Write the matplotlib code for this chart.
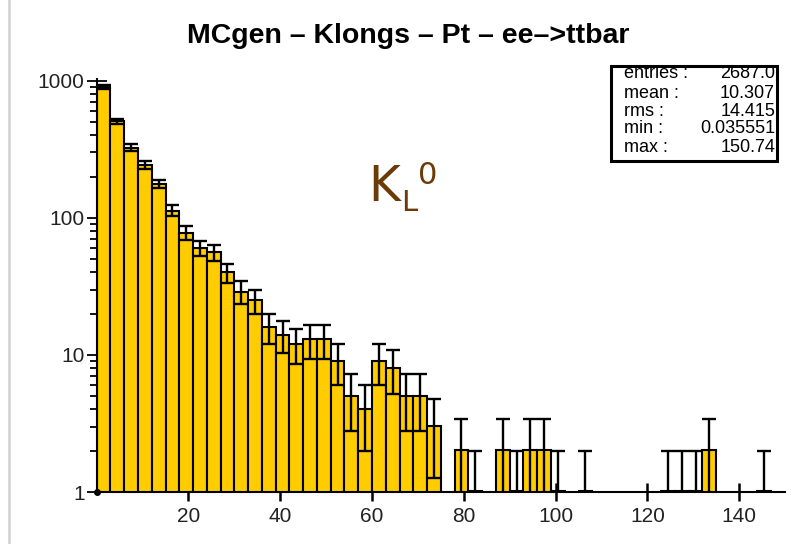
import numpy as np
import matplotlib
matplotlib.use("Agg")
import matplotlib.pyplot as plt
from matplotlib.lines import Line2D
from matplotlib.ticker import FixedLocator, NullFormatter

# ---------------- data ----------------
title = "MCgen \u2013 Klongs \u2013 Pt \u2013 ee\u2013>ttbar"
bin_width = 3.0
x_min, x_max = 0.0, 150.0
counts = [900, 505, 325, 244, 177, 113, 78, 60, 56, 40,
          29, 25, 16, 14, 12, 13, 13, 9, 5, 4,
          9, 8, 5, 5, 3, 0, 2, 1, 0, 2,
          1, 2, 2, 1, 0, 1, 0, 0, 0, 0,
          0, 1, 1, 1, 2, 0, 0, 0, 1, 0]
stat_names = ["entries :", "mean :", "rms :", "min :", "max :"]
stat_values = ["2687.0", "10.307", "14.415", "0.035551", "150.74"]
x_ticks = [20, 40, 60, 80, 100, 120, 140]
y_ticks = [1, 10, 100, 1000]
y_ticklabels = ["1", "10", "100", "1000"]

# ---------------- figure ----------------
W, H = 796, 544
fig = plt.figure(figsize=(W / 100, H / 100), dpi=100)
plt.rcParams['font.family'] = ['Liberation Sans', 'DejaVu Sans']

ax_left, ax_right = 96.7, 785.0
ax_top, ax_bottom = 79.0, 492.0
ax = fig.add_axes([ax_left / W, 1 - ax_bottom / H,
                   (ax_right - ax_left) / W, (ax_bottom - ax_top) / H])

counts = np.array(counts, dtype=float)
left_edges = x_min + bin_width * np.arange(len(counts))
centers = left_edges + bin_width / 2

ax.set_yscale('log')
ax.bar(left_edges, counts, width=bin_width, align='edge', bottom=0.01,
       color='#FFCC00', edgecolor='black', linewidth=1.5, zorder=2)

nz = counts > 0
err = np.sqrt(counts[nz])
lower = np.minimum(err, counts[nz] - 1e-3)
ax.errorbar(centers[nz], counts[nz], yerr=[lower, err], fmt='none',
            ecolor='black', elinewidth=1.7, capsize=4.8, capthick=1.7, zorder=3)

ax.set_xlim(x_min, x_max)
ax.set_ylim(1, 1030)

for s in ['top', 'right']:
    ax.spines[s].set_visible(False)
for s in ['left', 'bottom']:
    ax.spines[s].set_linewidth(1.5)

ax.set_xticks(x_ticks)
ax.set_xticklabels([str(t) for t in x_ticks])
ax.xaxis.set_minor_locator(FixedLocator([]))
ax.yaxis.set_major_locator(FixedLocator(y_ticks))
ax.set_yticklabels(y_ticklabels)
minor = [m * 10 ** d for d in range(0, 3) for m in range(2, 10)]
ax.yaxis.set_minor_locator(FixedLocator(minor))
ax.yaxis.set_minor_formatter(NullFormatter())

ax.tick_params(axis='x', which='major', direction='inout', length=13, width=1.8,
               labelsize=15, pad=4, labelcolor='#222222')
ax.tick_params(axis='y', which='major', direction='inout', length=14.5, width=1.3,
               labelsize=15, pad=1.5, labelcolor='#222222')
ax.tick_params(axis='y', which='minor', direction='inout', length=9.5, width=1.3)

ax.plot([0], [1], marker='o', ms=4, color='black', clip_on=False, zorder=5)

# title
fig.text(408 / W, 1 - 36 / H, title, ha='center', va='center',
         fontsize=20.5, fontweight='bold', color='black')

# stats box
bx0, by0, bx1, by1 = 611, 66, 777, 161
box = plt.Rectangle((bx0 / W, 1 - by1 / H), (bx1 - bx0) / W, (by1 - by0) / H,
                    transform=fig.transFigure, fill=True, facecolor='white',
                    edgecolor='black', linewidth=2.2, zorder=10)
fig.add_artist(box)
row_y = [74, 94, 112, 129, 147]
for name, val, yy in zip(stat_names, stat_values, row_y):
    fig.text(624 / W, 1 - yy / H, name, ha='left', va='center',
             fontsize=13, color='black', zorder=11)
    fig.text(775 / W, 1 - yy / H, val, ha='right', va='center',
             fontsize=13, color='black', zorder=11)

# K_L^0 annotation
brown = '#6B3A06'
fig.text(368 / W, 1 - 201 / H, "K", ha='left', va='baseline',
         fontsize=35, color=brown, family='DejaVu Sans')
fig.text(401 / W, 1 - 211 / H, "L", ha='left', va='baseline',
         fontsize=21, color=brown, family='DejaVu Sans')
fig.text(418 / W, 1 - 184 / H, "0", ha='left', va='baseline',
         fontsize=22, color=brown, family='DejaVu Sans')

# left border line of the panel
fig.add_artist(Line2D([8.5 / W, 8.5 / W], [0, 1], transform=fig.transFigure,
                      color='#d0d0d0', linewidth=1.8))

fig.savefig("out.png", dpi=100)
